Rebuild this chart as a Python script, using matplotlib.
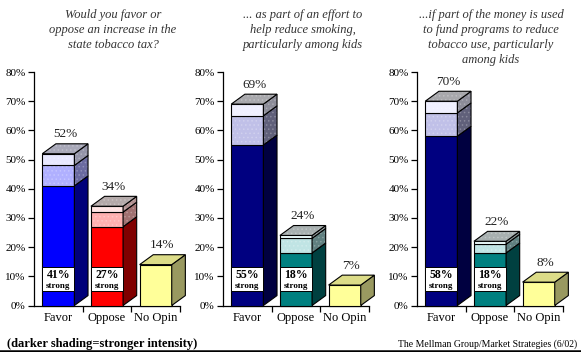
import matplotlib.pyplot as plt
from matplotlib.patches import Polygon, Rectangle
from matplotlib.colors import to_rgb

plt.rcParams['font.family'] = 'Liberation Serif'
plt.rcParams['hatch.linewidth'] = 0.6

titles = [
    'Would you favor or\noppose an increase in the\nstate tobacco tax?',
    '... as part of an effort to\nhelp reduce smoking,\nparticularly among kids',
    '...if part of the money is used\nto fund programs to reduce\ntobacco use, particularly\namong kids',
]
categories = ['Favor', 'Oppose', 'No Opin']
yticks = [0, 10, 20, 30, 40, 50, 60, 70, 80]

# percent per panel: strong / somewhat / lean
favor_strong = [41, 55, 58]
favor_some = [7, 10, 8]
favor_lean = [4, 4, 4]
oppose_strong = [27, 18, 18]
oppose_some = [5, 5, 3]
oppose_lean = [2, 1, 1]
no_opinion = [14, 7, 8]

# colours: (front, side) for strong, somewhat, lean, and top cap
favor_colors = [
    [('#0000ff', '#00007a'), ('#b0b0ff', '#6a6aa0'), ('#e8e8ff', '#9494a8'), '#a8a8b8'],
    [('#000080', '#000040'), ('#c0c0e8', '#60607a'), ('#f0f0ff', '#8c8c98'), '#a8a8ac'],
    [('#000080', '#000040'), ('#c0c0e8', '#60607a'), ('#f0f0ff', '#8c8c98'), '#a8a8ac'],
]
oppose_colors = [
    [('#ff0000', '#800000'), ('#ffb0b0', '#a07070'), ('#ffe4e4', '#b09090'), '#b4aaaa'],
    [('#008080', '#004040'), ('#c0e4e4', '#608080'), ('#f0ffff', '#8c9898'), '#a8b0b0'],
    [('#008080', '#004040'), ('#c0e4e4', '#608080'), ('#f0ffff', '#8c9898'), '#a8b0b0'],
]
noop_colors = [('#ffff99', '#999960'), '#dcdc88']

W, H = 581, 352
fig = plt.figure(figsize=(W / 100, H / 100), dpi=100)

axes_left = [34, 223, 417]
ax_w = 146
y0_px, y80_px = 305.5, 72
title_x = [113, 303, 491]

bar_x0 = 0.17
bar_w = 0.66
dx = 0.28
dy = 3.4


def lighter(c, f=0.25):
    r, g, b = to_rgb(c)
    return (r + (1 - r) * f, g + (1 - g) * f, b + (1 - b) * f)


def face(ax, pts, color, dots=False):
    if dots:
        ax.add_patch(Polygon(pts, closed=True, facecolor=color, edgecolor=lighter(color),
                             hatch='....', lw=0, clip_on=False, zorder=3))
        ax.add_patch(Polygon(pts, closed=True, facecolor='none', edgecolor='black',
                             lw=0.8, clip_on=False, zorder=3))
    else:
        ax.add_patch(Polygon(pts, closed=True, facecolor=color, edgecolor='black',
                             lw=0.8, clip_on=False, zorder=3))


def bar3d(ax, i, segments, cap, label):
    x0 = i + bar_x0
    x1 = x0 + bar_w
    base = 0
    for k, (h, (front, side)) in enumerate(segments):
        top = base + h
        dots = k > 0
        face(ax, [(x0, base), (x1, base), (x1, top), (x0, top)], front, dots)
        face(ax, [(x1, base), (x1 + dx, base + dy), (x1 + dx, top + dy), (x1, top)], side, dots)
        base = top
    face(ax, [(x0, base), (x1, base), (x1 + dx, base + dy), (x0 + dx, base + dy)], cap,
         len(segments) > 1)
    ax.text(x0 + bar_w / 2 + dx / 2, base + dy + 1.2, label, ha='center', va='bottom',
            fontsize=9.5, color='#222222', zorder=4)


def strong_box(ax, i, value):
    x0 = i + bar_x0
    ax.add_patch(Rectangle((x0, 5), bar_w, 8.2, facecolor='white', edgecolor='black',
                           lw=0.7, zorder=4))
    ax.text(x0 + bar_w / 2, 10.4, f'{value}%', ha='center', va='center',
            fontsize=8.5, fontweight='bold', zorder=5)
    ax.text(x0 + bar_w / 2, 6.7, 'strong', ha='center', va='center',
            fontsize=6.5, fontweight='bold', zorder=5)


for p in range(3):
    ax = fig.add_axes([axes_left[p] / W, (H - y0_px) / H, ax_w / W, (y0_px - y80_px) / H])
    ax.set_xlim(0, 3)
    ax.set_ylim(0, 80)
    for s in ['top', 'right']:
        ax.spines[s].set_visible(False)
    ax.spines['left'].set_linewidth(0.9)
    ax.spines['bottom'].set_linewidth(0.9)
    ax.set_yticks(yticks)
    ax.set_yticklabels([f'{v}%' for v in yticks], fontsize=8)
    ax.tick_params(axis='y', length=4, width=0.9, pad=2)
    ax.set_xticks([0.5, 1.5, 2.5])
    ax.set_xticklabels(categories, fontsize=9)
    ax.tick_params(axis='x', length=0, pad=5)
    ax.set_xticks([1, 2, 3], minor=True)
    ax.tick_params(axis='x', which='minor', length=4, width=0.9)
    ax.patch.set_alpha(0)

    fc = favor_colors[p]
    fav = [favor_strong[p], favor_some[p], favor_lean[p]]
    bar3d(ax, 0, list(zip(fav, fc[:3])), fc[3], f'{sum(fav)}%')
    strong_box(ax, 0, favor_strong[p])

    oc = oppose_colors[p]
    opp = [oppose_strong[p], oppose_some[p], oppose_lean[p]]
    bar3d(ax, 1, list(zip(opp, oc[:3])), oc[3], f'{sum(opp)}%')
    strong_box(ax, 1, oppose_strong[p])

    bar3d(ax, 2, [(no_opinion[p], noop_colors[0])], noop_colors[1], f'{no_opinion[p]}%')

    fig.text(title_x[p] / W, 1 - 9 / H, titles[p], ha='center', va='top', fontsize=9,
             style='italic', color='#333333', linespacing=1.32)

fig.text(7 / W, 1 - 344 / H, '(darker shading=stronger intensity)', ha='left',
         va='center', fontsize=9, fontweight='bold')
fig.text(577 / W, 1 - 344 / H, 'The Mellman Group/Market Strategies (6/02)', ha='right',
         va='center', fontsize=7)
fig.add_artist(plt.Line2D([0, 1], [1 - 350.5 / H] * 2, color='black', lw=1.8,
                          transform=fig.transFigure))

fig.savefig('out.png', dpi=100)
